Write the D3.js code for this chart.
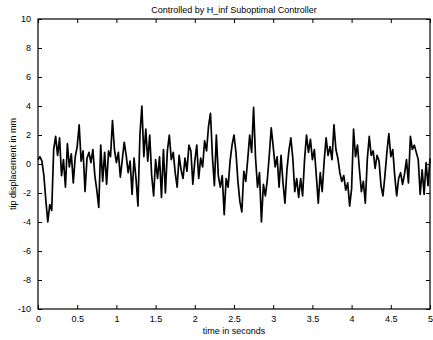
<!DOCTYPE html>
<html lang="en">
<head>
    <meta charset="UTF-8">
    <title>Controlled by H_inf Suboptimal Controller</title>
    <script src="https://d3js.org/d3.v7.min.js"></script>
    <style>
        body { margin: 0; background: #fff; }
        svg { display: block; }
        text { font-family: "Liberation Sans", Arial, sans-serif; fill: #000; }
    </style>
    <script>
        // tip displacement (mm), sampled every 0.025 s from 0 to 5 s
        const TIME_STEP = 0.025;
        const DISPLACEMENT = [
            0.3, 0.5, 0.2, -0.8, -2.5, -4.0, -2.8, -3.2, 1.0, 1.9,
            0.6, 1.8, -0.8, 0.3, -1.6, 1.4, -0.2, 0.7, -1.3, 0.5,
            1.2, 2.7, 0.2, 0.9, -1.9, 0.4, 0.8, 0.1, 1.0, -0.8,
            -1.8, -3.0, 1.3, -1.2, 0.8, -1.4, 0.9, 0.5, 3.0, 1.0,
            0.1, 0.8, -0.9, 0.3, 1.5, 0.6, -0.6, 0.2, -2.1, 0.4,
            -1.0, -2.9, 2.0, 4.0, 0.5, 2.4, 0.2, 2.0, -0.8, -2.2,
            0.3, -1.0, 0.5, -2.3, 1.0, -2.0, 0.9, 2.0, 0.3, 0.8,
            -0.6, -1.6, 0.6, -0.4, -1.0, 0.4, -0.5, 1.3, 0.9, -1.4,
            0.2, 1.3, -1.0, 0.4, -0.2, 1.6, 0.9, 2.6, 3.5, 0.5,
            -1.5, 2.0, -0.8, -1.6, -0.8, -3.5, -1.0, -1.6, 0.2, 1.3,
            2.0, 0.8, -1.2, -2.6, -3.3, -0.5, -1.2, 0.3, 2.0, 0.8,
            3.9, 0.4, -1.6, -0.6, -4.0, -1.4, -2.2, -1.1, 0.6, 2.5,
            1.2, -0.2, 0.5, -1.6, 0.6, -1.3, -2.7, -0.4, 0.9, 1.8,
            0.4, -1.9, -1.0, -2.3, -1.0, -2.2, 0.3, 2.0, 0.8, 1.7,
            0.3, 1.0, -0.8, -2.7, -0.6, -1.9, 0.2, 1.8, 0.6, 1.2,
            0.3, 2.7, 1.0, 0.4, -0.6, -1.2, -0.8, -1.8, -1.3, -2.9,
            -1.7, 2.4, 0.5, 1.3, -0.4, -1.9, -1.2, -2.7, 0.3, 1.9,
            0.6, 0.9, -0.3, 0.6, 0.2, -1.5, -2.2, -0.8, 0.8, 2.1,
            0.5, 1.0, -0.8, -2.2, -1.0, -0.6, -1.4, -0.7, 0.3, -1.3,
            1.9, 1.0, 1.3, 0.8, 0.3, -2.1, -0.4, -2.1, 0.1, -1.5,
            0.4
        ];
        const X_TICKS = [0, 0.5, 1, 1.5, 2, 2.5, 3, 3.5, 4, 4.5, 5];
        const Y_TICKS = [-10, -8, -6, -4, -2, 0, 2, 4, 6, 8, 10];

        document.addEventListener("DOMContentLoaded", function() {
            drawChart();
        });

        function drawChart() {
            const width = 433, height = 340;
            const margin = {top: 19, right: 3, bottom: 31, left: 38};
            const w = width - margin.left - margin.right;
            const h = height - margin.top - margin.bottom;

            const svg = d3.select("svg").attr("width", width).attr("height", height);
            const g = svg.append("g")
                .attr("transform", "translate(" + margin.left + "," + margin.top + ")");

            const x = d3.scaleLinear().domain([0, 5]).range([0, w]);
            const y = d3.scaleLinear().domain([-10, 10]).range([h, 0]);

            const fmt = d => String(d);

            const styleAxis = sel => {
                sel.select(".domain").remove();
                sel.selectAll("line").attr("stroke", "#000").attr("stroke-width", 1);
                sel.selectAll("text").style("font-size", "9px");
            };

            g.append("g").attr("transform", "translate(0," + h + ")")
                .call(d3.axisBottom(x).tickValues(X_TICKS).tickFormat(fmt).tickSizeInner(-4).tickPadding(7))
                .call(styleAxis);
            g.append("g")
                .call(d3.axisTop(x).tickValues(X_TICKS).tickFormat("").tickSizeInner(-4))
                .call(styleAxis);
            g.append("g")
                .call(d3.axisLeft(y).tickValues(Y_TICKS).tickFormat(fmt).tickSizeInner(-4).tickPadding(7))
                .call(styleAxis);
            g.append("g").attr("transform", "translate(" + w + ",0)")
                .call(d3.axisRight(y).tickValues(Y_TICKS).tickFormat("").tickSizeInner(-4))
                .call(styleAxis);

            g.append("rect")
                .attr("width", w).attr("height", h)
                .attr("fill", "none").attr("stroke", "#000").attr("stroke-width", 1.2);

            const line = d3.line()
                .x((d, i) => x(i * TIME_STEP))
                .y(d => y(d));

            g.append("path")
                .datum(DISPLACEMENT)
                .attr("d", line)
                .attr("fill", "none")
                .attr("stroke", "#000")
                .attr("stroke-width", 1.7)
                .attr("stroke-linejoin", "round");

            svg.append("text")
                .attr("x", margin.left + w / 2).attr("y", 13)
                .attr("text-anchor", "middle")
                .style("font-size", "9px")
                .text("Controlled by H_inf Suboptimal Controller");

            svg.append("text")
                .attr("x", margin.left + w / 2).attr("y", 334)
                .attr("text-anchor", "middle")
                .style("font-size", "9px")
                .text("time in seconds");

            svg.append("text")
                .attr("transform", "translate(16," + (margin.top + h / 2) + ") rotate(-90)")
                .attr("text-anchor", "middle")
                .style("font-size", "9px")
                .text("tip displacement in mm");
        }
    </script>
</head>
<body>
    <svg id="chart"></svg>
</body>
</html>
